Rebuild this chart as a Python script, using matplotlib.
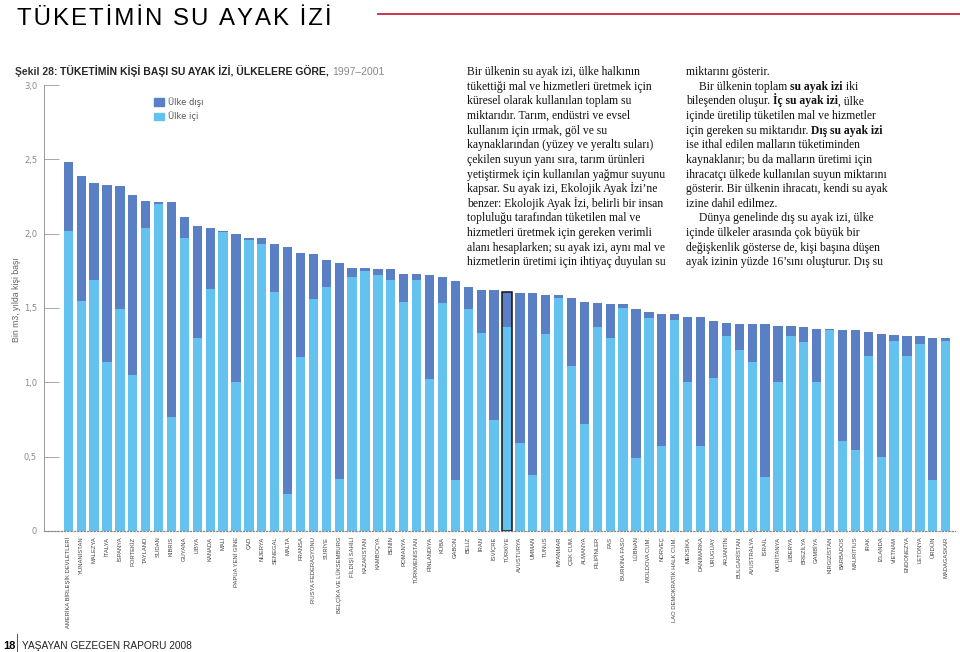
import numpy as np
import matplotlib.pyplot as plt
from matplotlib.font_manager import FontProperties
from matplotlib.patches import Patch

# Şekil 28 - kişi başı su ayak izi (bin m3 / yıl), 1997-2001
ulkeler = [
    "AMERİKA BİRLEŞİK DEVLETLERİ", "YUNANİSTAN", "MALEZYA", "İTALYA", "İSPANYA",
    "PORTEKİZ", "TAYLAND", "SUDAN", "KIBRIS", "GUYANA", "LİBYA", "KANADA", "MALİ",
    "PAPUA YENİ GİNE", "ÇAD", "NİJERYA", "SENEGAL", "MALTA", "FRANSA",
    "RUSYA FEDERASYONU", "SURİYE", "BELÇİKA VE LÜKSEMBURG", "FİLDİŞİ SAHİLİ",
    "KAZAKİSTAN", "KAMBOÇYA", "BENİN", "ROMANYA", "TÜRKMENİSTAN", "FİNLANDİYA",
    "KÜBA", "GABON", "BELİZ", "İRAN", "İSVİÇRE", "TÜRKİYE", "AVUSTURYA", "UMMAN",
    "TUNUS", "MYANMAR", "ÇEK CUM.", "ALMANYA", "FİLİPİNLER", "FAS", "BURKİNA FASO",
    "LÜBNAN", "MOLDOVA CUM.", "NORVEÇ", "LAO DEMOKRATİK HALK CUM.", "MEKSİKA",
    "DANİMARKA", "URUGUAY", "ARJANTİN", "BULGARİSTAN", "AVUSTRALYA", "İSRAİL",
    "MORİTANYA", "LİBERYA", "BREZİLYA", "GAMBİYA", "KIRGIZİSTAN", "BARBADOS",
    "MAURİTİUS", "IRAK", "İZLANDA", "VİETNAM", "ENDONEZYA", "LETONYA", "ÜRDÜN",
    "MADAGASKAR",
]
toplam = np.array([
    2.48, 2.39, 2.34, 2.33, 2.32, 2.26, 2.22, 2.21, 2.21, 2.11, 2.05, 2.04, 2.02,
    2.00, 1.97, 1.97, 1.93, 1.91, 1.87, 1.86, 1.82, 1.80, 1.77, 1.77, 1.76, 1.76,
    1.73, 1.73, 1.72, 1.71, 1.68, 1.64, 1.62, 1.62, 1.61, 1.60, 1.60, 1.59, 1.585,
    1.57, 1.54, 1.535, 1.53, 1.525, 1.49, 1.47, 1.46, 1.46, 1.44, 1.44, 1.41, 1.40,
    1.39, 1.39, 1.39, 1.38, 1.38, 1.37, 1.36, 1.36, 1.35, 1.35, 1.34, 1.325, 1.32,
    1.31, 1.31, 1.30, 1.295,
])
ulke_ici = np.array([
    2.02, 1.55, 1.69, 1.14, 1.49, 1.05, 2.04, 2.20, 0.77, 1.97, 1.30, 1.63, 2.01,
    1.00, 1.96, 1.93, 1.61, 0.25, 1.17, 1.56, 1.64, 0.35, 1.71, 1.75, 1.72, 1.69,
    1.54, 1.69, 1.02, 1.535, 0.34, 1.49, 1.33, 0.75, 1.37, 0.59, 0.38, 1.325, 1.57,
    1.11, 0.72, 1.37, 1.30, 1.50, 0.49, 1.43, 0.57, 1.42, 1.00, 0.57, 1.03, 1.31,
    1.22, 1.14, 0.36, 1.00, 1.31, 1.27, 1.00, 1.35, 0.605, 0.545, 1.18, 0.50, 1.28,
    1.18, 1.26, 0.34, 1.28,
])
ulke_disi = toplam - ulke_ici

y_degerleri = [0, 0.5, 1.0, 1.5, 2.0, 2.5, 3.0]
y_etiketleri = ["0", "0,5", "1,0", "1,5", "2,0", "2,5", "3,0"]

sutun1 = [
    "Bir ülkenin su ayak izi, ülke halkının",
    "tükettiği mal ve hizmetleri üretmek için",
    "küresel olarak kullanılan toplam su",
    "miktarıdır. Tarım, endüstri ve evsel",
    "kullanım için ırmak, göl ve su",
    "kaynaklarından (yüzey ve yeraltı suları)",
    "çekilen suyun yanı sıra, tarım ürünleri",
    "yetiştirmek için kullanılan yağmur suyunu",
    "kapsar. Su ayak izi, Ekolojik Ayak İzi’ne",
    "benzer: Ekolojik Ayak İzi, belirli bir insan",
    "topluluğu tarafından tüketilen mal ve",
    "hizmetleri üretmek için gereken verimli",
    "alanı hesaplarken; su ayak izi, aynı mal ve",
    "hizmetlerin üretimi için ihtiyaç duyulan su",
]
sutun2 = [
    "miktarını gösterir.",
    ">Bir ülkenin toplam **su ayak izi** iki",
    "bileşenden oluşur. **İç su ayak izi**, ülke",
    "içinde üretilip tüketilen mal ve hizmetler",
    "için gereken su miktarıdır. **Dış su ayak izi**",
    "ise ithal edilen malların tüketiminden",
    "kaynaklanır; bu da malların üretimi için",
    "ihracatçı ülkede kullanılan suyun miktarını",
    "gösterir. Bir ülkenin ihracatı, kendi su ayak",
    "izine dahil edilmez.",
    ">Dünya genelinde dış su ayak izi, ülke",
    "içinde ülkeler arasında çok büyük bir",
    "değişkenlik gösterse de, kişi başına düşen",
    "ayak izinin yüzde 16’sını oluşturur. Dış su",
]

koyu = "#5b7fc5"
acik = "#63c3ee"
kirmizi = "#c4283f"

W, H = 960, 652
fig = plt.figure(figsize=(W / 100, H / 100), dpi=100)
renderer = fig.canvas.get_renderer()


def fx(px):
    return px / W


def fy(py):
    return 1 - py / H


def genislik(s, fp):
    w1 = renderer.get_text_width_height_descent("|" + s + "|", fp, ismath=False)[0]
    w0 = renderer.get_text_width_height_descent("||", fp, ismath=False)[0]
    return w1 - w0


def parcali(x0, y0, parcalar):
    # parcalar: (metin, FontProperties, renk) listesi, yan yana yazılır
    for s, fp, renk in parcalar:
        fig.text(fx(x0), fy(y0), s, fontproperties=fp, va="baseline", ha="left", color=renk)
        x0 += genislik(s, fp)


# --- başlık ---
baslik = "TÜKETİMİN SU AYAK İZİ"
fig.text(fx(17), fy(25), "\u200a".join(baslik), family="Liberation Sans",
         fontsize=17.3, color="black", va="baseline", ha="left")
fig.add_artist(plt.Line2D([fx(378), fx(960)], [fy(14), fy(14)], color=kirmizi, lw=1.3))

alt_n = FontProperties(family="Liberation Sans", size=7.45)
alt_b = FontProperties(family="Liberation Sans", size=7.45, weight="bold")
parcali(15, 75, [("Şekil 28: ", alt_b, "#333"),
                 ("TÜKETİMİN KİŞİ BAŞI SU AYAK İZİ, ÜLKELERE GÖRE, ", alt_b, "#222"),
                 ("1997–2001", alt_n, "#888")])

# --- grafik ---
ax = fig.add_axes([fx(44), fy(531), 911 / W, 446 / H])
x = np.arange(len(ulkeler))
ax.bar(x, ulke_ici, width=0.72, color=acik)
ax.bar(x, ulke_disi, bottom=ulke_ici, width=0.72, color=koyu)
t = ulkeler.index("TÜRKİYE")
ax.bar(t, toplam[t], width=0.72, fill=False, edgecolor="#111", lw=1.1)

ax.set_xlim(-1.88, 68.72)
ax.set_ylim(0, 3)
ax.set_yticks(y_degerleri)
ax.set_yticklabels(y_etiketleri)
ax.set_xticks(x)
ax.set_xticklabels(ulkeler, rotation=90, fontsize=4.2, color="#444",
                   family="Liberation Sans")
ax.tick_params(axis="x", length=0, pad=4)
ax.tick_params(axis="y", direction="in", length=11, width=0.6, color="#999",
               labelsize=6, labelcolor="#888", pad=5)
for s in ["top", "right"]:
    ax.spines[s].set_visible(False)
ax.spines["left"].set_color("#999")
ax.spines["left"].set_linewidth(0.7)
ax.spines["bottom"].set_color("#888")
ax.spines["bottom"].set_linestyle(":")
ax.spines["bottom"].set_linewidth(0.9)

ax.legend(handles=[Patch(color=koyu, label="Ülke dışı"), Patch(color=acik, label="Ülke içi")],
          loc="upper left", bbox_to_anchor=(0.112, 0.99), frameon=False, fontsize=6,
          handlelength=1.2, handleheight=1.0, handletextpad=0.5, labelspacing=0.55,
          labelcolor="#555")

fig.text(fx(17), fy(300), "Bin m3, yılda kişi başı", rotation=90, fontsize=6.3,
         color="#666", ha="center", va="center", family="Liberation Sans")

# --- metin sütunları ---
govde = 8.35
fp_n = FontProperties(family="Liberation Serif", size=govde)
fp_b = FontProperties(family="Liberation Serif", size=govde, weight="bold")


def satir(x0, y0, metin):
    if metin.startswith(">"):
        metin = metin[1:]
        x0 += 13
    parcalar = []
    for i, parca in enumerate(metin.split("**")):
        if parca:
            parcalar.append((parca, fp_b if i % 2 else fp_n, "#111"))
    parcali(x0, y0, parcalar)


for i, s in enumerate(sutun1):
    satir(467, 75 + i * 14.65, s)
for i, s in enumerate(sutun2):
    satir(686, 75 + i * 14.65, s)

# --- alt bilgi ---
fig.text(fx(3), fy(649), "18", family="Liberation Sans", fontsize=8, weight="bold",
         va="baseline")
fig.add_artist(plt.Line2D([fx(17), fx(17)], [fy(634), fy(652)], color="#333", lw=0.6))
fig.text(fx(22), fy(649), "YAŞAYAN GEZEGEN RAPORU 2008", family="Liberation Sans",
         fontsize=7.3, color="#222", va="baseline")

fig.savefig("out.png", dpi=100)
